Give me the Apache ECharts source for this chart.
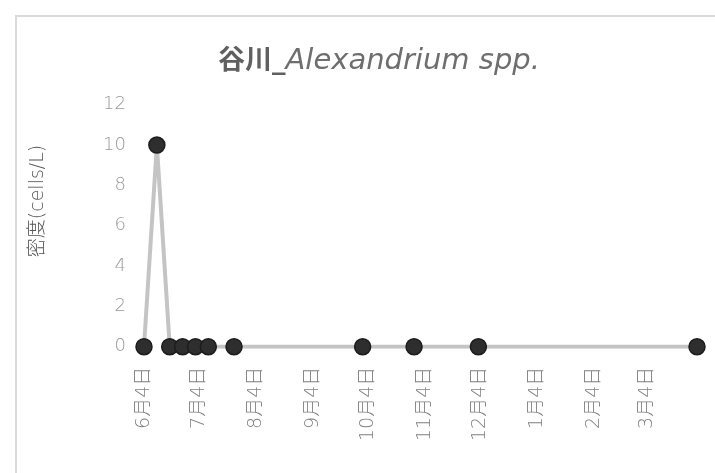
<!DOCTYPE html>
<html>
<head>
<meta charset="utf-8">
<script src="https://cdn.jsdelivr.net/npm/echarts@6/dist/echarts.min.js"></script>
<style>
html,body{margin:0;padding:0;background:#fff;}
#chart{width:715px;height:473px;}
</style>
</head>
<body>
<div id="chart"></div>
<script>
const sampleDates = ['2019-06-04','2019-06-11','2019-06-18','2019-06-25','2019-07-02','2019-07-09','2019-07-23','2019-10-01','2019-10-29','2019-12-03','2020-03-31'];
const densityValues = [0, 10, 0, 0, 0, 0, 0, 0, 0, 0, 0];
const tickDates = ['2019-06-04','2019-07-04','2019-08-04','2019-09-04','2019-10-04','2019-11-04','2019-12-04','2020-01-04','2020-02-04','2020-03-04'];
const yTicks = [0, 2, 4, 6, 8, 10, 12];
const titleMain = '谷川_';
const titleSpecies = 'Alexandrium spp.';
const yAxisTitle = '密度(cells/L)';

function ts(s){ const p = s.split('-').map(Number); return new Date(p[0], p[1]-1, p[2]).getTime(); }

const FONT = '"DejaVu Sans", "Noto Sans CJK JP", sans-serif';
const chart = echarts.init(document.getElementById('chart'));
chart.setOption({
  animation: false,
  backgroundColor: '#fff',
  title: {
    text: '{a|' + titleMain + '}{b|' + titleSpecies + '}',
    left: 374, top: 42, textAlign: 'center',
    textStyle: {
      rich: {
        a: { fontSize: 27, color: '#606060', fontWeight: 'bold', fontFamily: FONT },
        b: { fontSize: 29, color: '#6e6e6e', fontStyle: 'italic', fontWeight: 200, fontFamily: FONT }
      }
    }
  },
  graphic: [
    { type: 'rect', shape: { x: 16, y: 16, width: 900, height: 700 }, style: { fill: 'none', stroke: '#dadada', lineWidth: 2 }, silent: true },
    { type: 'text', x: 38, y: 201, rotation: Math.PI/2, style: { text: yAxisTitle, fontSize: 19, fontWeight: 200, fill: '#555', fontFamily: FONT, align: 'center', verticalAlign: 'middle' } }
  ],
  grid: { left: 144, right: 18, top: 104.7, bottom: 126.3, containLabel: false },
  xAxis: {
    type: 'value',
    min: ts(sampleDates[0]),
    max: ts(sampleDates[sampleDates.length-1]),
    axisLine: { show: false },
    axisTick: { show: false },
    splitLine: { show: false },
    axisLabel: {
      customValues: tickDates.map(ts),
      rotate: 90,
      margin: 20,
      fontSize: 19,
      color: '#808080',
      fontFamily: FONT,
      fontWeight: 200,
      showMinLabel: true,
      showMaxLabel: true,
      hideOverlap: false,
      formatter: function(v){ const d = new Date(v); return (d.getMonth()+1) + '月' + d.getDate() + '日'; }
    }
  },
  yAxis: {
    type: 'value',
    min: yTicks[0], max: yTicks[yTicks.length-1], interval: 2,
    axisLine: { show: false },
    axisTick: { show: false },
    splitLine: { show: false },
    axisLabel: { fontSize: 18, color: '#999', fontFamily: FONT, fontWeight: 200, margin: 18 }
  },
  series: [{
    type: 'line',
    data: sampleDates.map((d, i) => [ts(d), densityValues[i]]),
    symbol: 'circle',
    symbolSize: 16,
    lineStyle: { color: '#c4c4c4', width: 4 },
    itemStyle: { color: '#2e2e2e', borderColor: '#1c1c1c', borderWidth: 1.5 },
    z: 3
  }]
});
</script>
</body>
</html>
